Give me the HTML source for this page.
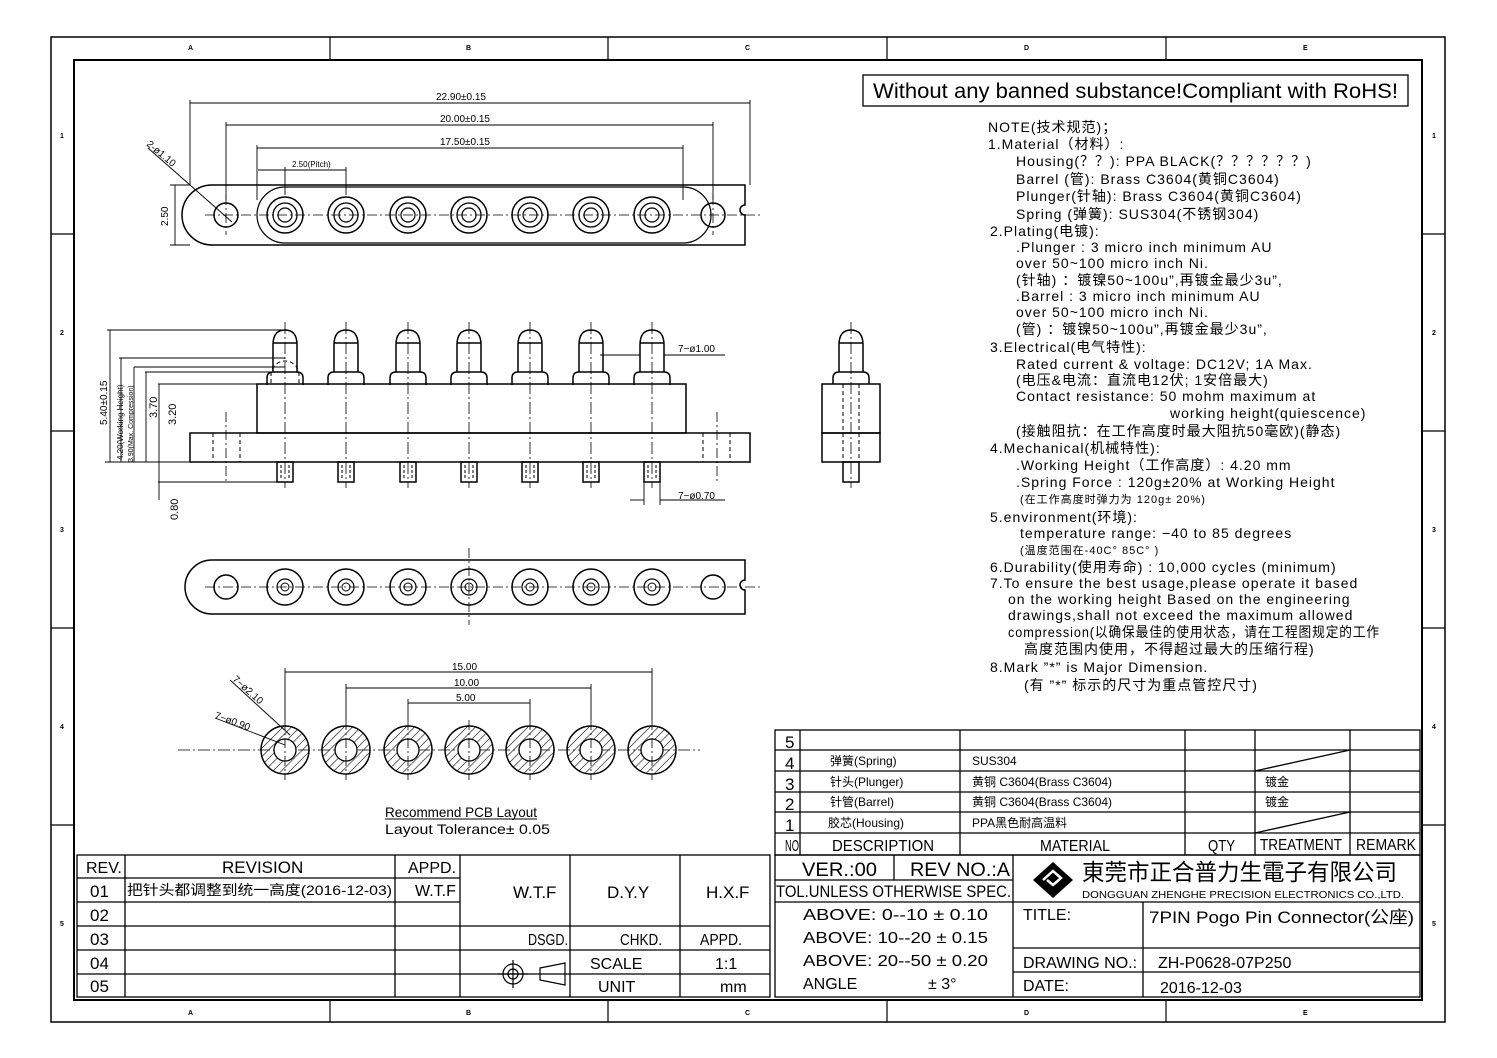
<!DOCTYPE html>
<html><head><meta charset="utf-8"><style>
html,body{margin:0;padding:0;background:#fff}
svg{display:block}
text{font-family:"Liberation Sans","Noto Sans CJK SC",sans-serif;fill:#000}
.n{font-family:"Liberation Sans","Noto Sans CJK SC",sans-serif;font-size:14px;letter-spacing:1px}
.t{font-family:"Liberation Sans","Noto Sans CJK SC",sans-serif}
.d{font-size:10px;font-family:"DejaVu Sans",sans-serif}
</style></head><body>
<svg width="1497" height="1058" viewBox="0 0 1497 1058" xmlns="http://www.w3.org/2000/svg" fill="none" stroke="#000">
<defs>
<pattern id="h" width="6" height="6" patternUnits="userSpaceOnUse" patternTransform="rotate(45)"><line x1="0" y1="0" x2="0" y2="6" stroke="#000" stroke-width="1.2"/></pattern>
<g id="thole"><circle r="18" stroke-width="1.5"/><circle r="12" stroke-width="1.3"/><circle r="7" stroke-width="1.2"/></g>
<g id="bhole"><circle r="18" stroke-width="1.5"/><circle r="8" stroke-width="1.2"/><circle r="4" stroke-width="1"/></g>
<g id="pin" stroke-width="1.5"><path d="M-12,372 v-27 q0,-15 12,-15 q12,0 12,15 v27"/><line x1="-12" y1="343" x2="12" y2="343"/><path d="M-18,385 v-7 q0,-6 6,-6 h24 q6,0 6,6 v7"/><rect x="-8" y="462" width="16" height="20"/><line x1="-4" y1="465" x2="-4" y2="479" stroke-dasharray="3 2" stroke-width="1"/><line x1="4" y1="465" x2="4" y2="479" stroke-dasharray="3 2" stroke-width="1"/><line x1="0" y1="322" x2="0" y2="488" stroke-dasharray="12 3 2 3" stroke-width="0.8"/></g>
<g id="pcb"><circle r="24" fill="url(#h)" stroke-width="1.5"/><circle r="11" fill="#fff" stroke-width="1.3"/><line x1="0" y1="-30" x2="0" y2="30" stroke-dasharray="10 3 2 3" stroke-width="0.8"/></g>
</defs>
<rect x="51" y="37" width="1394" height="985" stroke-width="1.5"/>
<rect x="74" y="60" width="1348" height="940" stroke-width="2"/>
<g stroke-width="1.2">
<line x1="330" y1="37" x2="330" y2="60"/><line x1="608" y1="37" x2="608" y2="60"/><line x1="887" y1="37" x2="887" y2="60"/><line x1="1166" y1="37" x2="1166" y2="60"/>
<line x1="330" y1="1000" x2="330" y2="1022"/><line x1="608" y1="1000" x2="608" y2="1022"/><line x1="887" y1="1000" x2="887" y2="1022"/><line x1="1166" y1="1000" x2="1166" y2="1022"/>
<line x1="51" y1="234" x2="74" y2="234"/><line x1="51" y1="431" x2="74" y2="431"/><line x1="51" y1="628" x2="74" y2="628"/><line x1="51" y1="825" x2="74" y2="825"/>
<line x1="1422" y1="234" x2="1445" y2="234"/><line x1="1422" y1="431" x2="1445" y2="431"/><line x1="1422" y1="628" x2="1445" y2="628"/><line x1="1422" y1="825" x2="1445" y2="825"/>
</g>
<g stroke="none" font-size="7" font-weight="bold">
<text x="188" y="50">A</text><text x="466" y="50">B</text><text x="745" y="50">C</text><text x="1024" y="50">D</text><text x="1303" y="50">E</text>
<text x="188" y="1015">A</text><text x="466" y="1015">B</text><text x="745" y="1015">C</text><text x="1024" y="1015">D</text><text x="1303" y="1015">E</text>
<text x="60" y="138">1</text><text x="60" y="335">2</text><text x="60" y="532">3</text><text x="60" y="729">4</text><text x="60" y="926">5</text>
<text x="1432" y="138">1</text><text x="1432" y="335">2</text><text x="1432" y="532">3</text><text x="1432" y="729">4</text><text x="1432" y="926">5</text>
</g>
<rect x="863" y="75" width="545" height="31" stroke-width="1.3"/>
<text x="873" y="98" class="t" font-size="21" stroke="none" textLength="525" lengthAdjust="spacingAndGlyphs">Without any banned substance!Compliant with RoHS!</text>

<g stroke-width="0.9">
<line x1="190" y1="100" x2="190" y2="185"/><line x1="750" y1="100" x2="750" y2="185"/>
<line x1="190" y1="103" x2="750" y2="103"/>
<line x1="226" y1="122" x2="226" y2="200"/><line x1="713" y1="122" x2="713" y2="200"/>
<line x1="226" y1="125" x2="713" y2="125"/>
<line x1="257" y1="145" x2="257" y2="200"/><line x1="683" y1="145" x2="683" y2="200"/>
<line x1="257" y1="148" x2="683" y2="148"/>
<line x1="285" y1="167" x2="285" y2="195"/><line x1="346" y1="167" x2="346" y2="195"/>
<line x1="258" y1="170" x2="346" y2="170"/>
<line x1="170" y1="185" x2="190" y2="185"/><line x1="170" y1="245" x2="190" y2="245"/><line x1="175" y1="185" x2="175" y2="245"/>
<line x1="148" y1="148" x2="232" y2="222"/>
</g>
<g stroke="none" class="d">
<text x="436" y="100">22.90±0.15</text><text x="440" y="122">20.00±0.15</text><text x="440" y="145">17.50±0.15</text>
<text x="292" y="167" font-size="8">2.50(Pitch)</text>
<text x="168" y="226" transform="rotate(-90 168 226)">2.50</text>
<text x="146" y="145" transform="rotate(40 146 145)">2-ø1.10</text>
</g>
<g stroke-width="1.5">
<path d="M212,185 H745 V205 a5,5 0 0 0 0,10 V245 H212 a30,30 0 0 1 0,-60 Z"/>
<path d="M285,187 H683 a28,28 0 0 1 0,56 H285 a28,28 0 0 1 0,-56 Z" stroke-width="1.2"/>
<circle cx="226" cy="215" r="12"/><circle cx="713" cy="215" r="12"/>
</g>
<g>
<use href="#thole" x="285" y="215"/><use href="#thole" x="346" y="215"/><use href="#thole" x="408" y="215"/><use href="#thole" x="469" y="215"/><use href="#thole" x="530" y="215"/><use href="#thole" x="591" y="215"/><use href="#thole" x="652" y="215"/>
</g>
<g stroke-width="0.8" stroke-dasharray="10 3 2 3"><line x1="205" y1="215" x2="760" y2="215"/><line x1="226" y1="195" x2="226" y2="235"/><line x1="713" y1="195" x2="713" y2="235"/></g>

<g stroke-width="1.5">
<rect x="257" y="384" width="429" height="49"/>
<rect x="190" y="433" width="560" height="29"/>
</g>
<g stroke-width="1" stroke-dasharray="4 3">
<line x1="213" y1="433" x2="213" y2="462"/><line x1="240" y1="433" x2="240" y2="462"/>
<line x1="703" y1="433" x2="703" y2="462"/><line x1="730" y1="433" x2="730" y2="462"/>
<path d="M271,383 v-8 a14,14 0 0 1 28,0 v8"/>
</g>
<g stroke-width="0.8" stroke-dasharray="10 3 2 3"><line x1="226" y1="412" x2="226" y2="482"/><line x1="717" y1="412" x2="717" y2="482"/></g>
<use href="#pin" x="285"/><use href="#pin" x="346"/><use href="#pin" x="408"/><use href="#pin" x="469"/><use href="#pin" x="530"/><use href="#pin" x="591"/><use href="#pin" x="652"/>
<g stroke-width="0.9">
<line x1="107" y1="330" x2="285" y2="330"/><line x1="110" y1="330" x2="110" y2="462"/>
<line x1="119" y1="358" x2="285" y2="358"/><line x1="121" y1="358" x2="121" y2="462"/>
<line x1="134" y1="367" x2="285" y2="367"/><line x1="134" y1="367" x2="134" y2="462"/>
<line x1="145" y1="372" x2="285" y2="372"/><line x1="146" y1="372" x2="146" y2="462"/>
<line x1="158" y1="384" x2="257" y2="384"/><line x1="159" y1="384" x2="159" y2="462"/>
<line x1="105" y1="462" x2="190" y2="462"/>
<line x1="158" y1="482" x2="280" y2="482"/><line x1="159" y1="462" x2="159" y2="500"/>
<line x1="600" y1="355" x2="640" y2="355"/><line x1="664" y1="355" x2="725" y2="355"/>
<line x1="630" y1="500" x2="644" y2="500"/><line x1="660" y1="500" x2="725" y2="500"/>
<line x1="644" y1="480" x2="644" y2="505"/><line x1="660" y1="480" x2="660" y2="505"/>
</g>
<g stroke="none" class="d">
<text x="107" y="425" transform="rotate(-90 107 425)">5.40±0.15</text>
<text x="123" y="460" transform="rotate(-90 123 460)" font-size="8">4.20(Working Height)</text>
<text x="133" y="462" transform="rotate(-90 133 462)" font-size="7">3.90(Max. Compression)</text>
<text x="157" y="418" transform="rotate(-90 157 418)" font-size="11">3.70</text>
<text x="176" y="425" transform="rotate(-90 176 425)" font-size="11">3.20</text>
<text x="178" y="520" transform="rotate(-90 178 520)" font-size="11">0.80</text>
<text x="678" y="352">7−ø1.00</text>
<text x="678" y="499">7−ø0.70</text>
</g>
<g stroke-width="1.5">
<rect x="822" y="384" width="58" height="49"/><rect x="822" y="433" width="58" height="29"/>
<path d="M839,372 v-27 q0,-15 12,-15 q12,0 12,15 v27"/><line x1="839" y1="343" x2="863" y2="343"/><path d="M833,384 v-6 q0,-6 6,-6 h24 q6,0 6,6 v6"/>
<rect x="843" y="462" width="16" height="20"/>
</g>
<g stroke-width="1" stroke-dasharray="4 3"><line x1="843" y1="384" x2="843" y2="462"/><line x1="859" y1="384" x2="859" y2="462"/></g>
<line x1="851" y1="322" x2="851" y2="488" stroke-width="0.8" stroke-dasharray="12 3 2 3"/>

<g stroke-width="1.5">
<path d="M212,560 H745 V580 a5,5 0 0 0 0,10 V614 H212 a27,27 0 0 1 0,-54 Z"/>
<circle cx="226" cy="587" r="12"/><circle cx="713" cy="587" r="12"/>
</g>
<use href="#bhole" x="285" y="587"/><use href="#bhole" x="346" y="587"/><use href="#bhole" x="408" y="587"/><use href="#bhole" x="469" y="587"/><use href="#bhole" x="530" y="587"/><use href="#bhole" x="591" y="587"/><use href="#bhole" x="652" y="587"/>
<g stroke-width="0.8" stroke-dasharray="10 3 2 3"><line x1="205" y1="587" x2="760" y2="587"/><line x1="469" y1="548" x2="469" y2="625"/></g>

<line x1="178" y1="750" x2="700" y2="750" stroke-width="0.8" stroke-dasharray="12 3 2 3"/>
<use href="#pcb" x="285" y="750"/><use href="#pcb" x="346" y="750"/><use href="#pcb" x="408" y="750"/><use href="#pcb" x="469" y="750"/><use href="#pcb" x="530" y="750"/><use href="#pcb" x="591" y="750"/><use href="#pcb" x="652" y="750"/>
<g stroke-width="0.9">
<line x1="285" y1="672" x2="652" y2="672"/><line x1="285" y1="668" x2="285" y2="720"/><line x1="652" y1="668" x2="652" y2="720"/>
<line x1="346" y1="688" x2="591" y2="688"/><line x1="346" y1="684" x2="346" y2="720"/><line x1="591" y1="684" x2="591" y2="720"/>
<line x1="408" y1="703" x2="530" y2="703"/><line x1="408" y1="699" x2="408" y2="720"/><line x1="530" y1="699" x2="530" y2="720"/>
<line x1="230" y1="680" x2="290" y2="735"/><line x1="215" y1="718" x2="285" y2="745"/>
<line x1="385" y1="819" x2="537" y2="819"/>
</g>
<g stroke="none" class="d">
<text x="452" y="670">15.00</text><text x="454" y="686">10.00</text><text x="456" y="701">5.00</text>
<text x="232" y="680" transform="rotate(42 232 680)">7−ø2.10</text>
<text x="214" y="718" transform="rotate(20 214 718)">7−ø0.90</text>
</g>
<text x="385" y="817" class="t" font-size="14" stroke="none" textLength="152" lengthAdjust="spacingAndGlyphs">Recommend PCB Layout</text>
<text x="385" y="834" class="t" font-size="14" stroke="none" textLength="165" lengthAdjust="spacingAndGlyphs">Layout Tolerance± 0.05</text>

<g stroke="none" class="n">
<text x="988" y="132">NOTE(技术规范)；</text>
<text x="988" y="149">1.Material（材料）:</text>
<text x="1016" y="166">Housing(？？): PPA BLACK(？？？？？？)</text>
<text x="1016" y="184">Barrel (管): Brass C3604(黄铜C3604)</text>
<text x="1016" y="201">Plunger(针轴): Brass C3604(黄铜C3604)</text>
<text x="1016" y="219">Spring (弹簧): SUS304(不锈钢304)</text>
<text x="990" y="236">2.Plating(电镀):</text>
<text x="1016" y="252">.Plunger : 3 micro inch minimum AU</text>
<text x="1016" y="268">over 50~100 micro inch Ni.</text>
<text x="1016" y="285">(针轴) ：镀镍50~100u”,再镀金最少3u”,</text>
<text x="1016" y="301">.Barrel : 3 micro inch minimum AU</text>
<text x="1016" y="317">over 50~100 micro inch Ni.</text>
<text x="1016" y="334">(管) ：镀镍50~100u”,再镀金最少3u”,</text>
<text x="990" y="352">3.Electrical(电气特性):</text>
<text x="1016" y="369">Rated current &amp; voltage: DC12V; 1A Max.</text>
<text x="1016" y="385">(电压&amp;电流：直流电12伏; 1安倍最大)</text>
<text x="1016" y="401">Contact resistance: 50 mohm maximum at</text>
<text x="1170" y="418">working height(quiescence)</text>
<text x="1016" y="436">(接触阻抗：在工作高度时最大阻抗50毫欧)(静态)</text>
<text x="990" y="453">4.Mechanical(机械特性):</text>
<text x="1016" y="470">.Working Height（工作高度）: 4.20 mm</text>
<text x="1016" y="487">.Spring Force : 120g±20% at Working Height</text>
<text x="1020" y="503" font-size="11">(在工作高度时弹力为 120g± 20%)</text>
<text x="990" y="522">5.environment(环境):</text>
<text x="1020" y="538">temperature range: −40 to 85 degrees</text>
<text x="1020" y="554" font-size="11">(温度范围在-40C°  85C° )</text>
<text x="990" y="572">6.Durability(使用寿命) : 10,000 cycles (minimum)</text>
<text x="990" y="588">7.To ensure the best usage,please operate it based</text>
<text x="1008" y="604">on the working height Based on the engineering</text>
<text x="1008" y="620">drawings,shall not exceed the maximum allowed</text>
<text x="1008" y="637" textLength="372" lengthAdjust="spacingAndGlyphs">compression(以确保最佳的使用状态，请在工程图规定的工作</text>
<text x="1024" y="654">高度范围内使用，不得超过最大的压缩行程)</text>
<text x="990" y="672">8.Mark ”*” is Major Dimension.</text>
<text x="1024" y="690">(有 ”*” 标示的尺寸为重点管控尺寸)</text>
</g>

<g stroke-width="1.3">
<rect x="775" y="730" width="645" height="125"/>
<line x1="775" y1="750" x2="1420" y2="750"/><line x1="775" y1="771" x2="1420" y2="771"/><line x1="775" y1="792" x2="1420" y2="792"/><line x1="775" y1="812" x2="1420" y2="812"/><line x1="775" y1="833" x2="1420" y2="833"/>
<line x1="800" y1="730" x2="800" y2="855"/><line x1="960" y1="730" x2="960" y2="855"/><line x1="1185" y1="730" x2="1185" y2="855"/><line x1="1255" y1="730" x2="1255" y2="855"/><line x1="1350" y1="730" x2="1350" y2="855"/>
<line x1="1255" y1="771" x2="1350" y2="750"/><line x1="1255" y1="833" x2="1350" y2="812"/>
</g>
<g stroke="none" class="t">
<text x="785" y="748" font-size="17">5</text><text x="785" y="769" font-size="17">4</text><text x="785" y="790" font-size="17">3</text><text x="785" y="810" font-size="17">2</text><text x="785" y="831" font-size="17">1</text>
<text x="830" y="765" font-size="12">弹簧(Spring)</text><text x="830" y="786" font-size="12">针头(Plunger)</text><text x="830" y="806" font-size="12">针管(Barrel)</text><text x="828" y="827" font-size="12">胶芯(Housing)</text>
<text x="972" y="765" font-size="12">SUS304</text><text x="972" y="786" font-size="12">黄铜 C3604(Brass C3604)</text><text x="972" y="806" font-size="12">黄铜 C3604(Brass C3604)</text><text x="972" y="827" font-size="12">PPA黑色耐高温料</text>
<text x="1265" y="786" font-size="12">镀金</text><text x="1265" y="806" font-size="12">镀金</text>
<text x="785" y="851" font-size="16" textLength="14" lengthAdjust="spacingAndGlyphs">NO</text><text x="832" y="851" font-size="16" textLength="102" lengthAdjust="spacingAndGlyphs">DESCRIPTION</text><text x="1040" y="851" font-size="16" textLength="70" lengthAdjust="spacingAndGlyphs">MATERIAL</text><text x="1208" y="851" font-size="16" textLength="27" lengthAdjust="spacingAndGlyphs">QTY</text><text x="1260" y="850" font-size="16" textLength="82" lengthAdjust="spacingAndGlyphs">TREATMENT</text><text x="1356" y="850" font-size="16" textLength="60" lengthAdjust="spacingAndGlyphs">REMARK</text>
</g>

<g stroke-width="1.3">
<rect x="775" y="855" width="645" height="142"/>
<line x1="775" y1="880" x2="1013" y2="880"/><line x1="775" y1="902" x2="1420" y2="902"/>
<line x1="894" y1="855" x2="894" y2="880"/><line x1="1013" y1="855" x2="1013" y2="997"/>
<line x1="1013" y1="948" x2="1420" y2="948"/><line x1="1013" y1="972" x2="1420" y2="972"/>
<line x1="1143" y1="902" x2="1143" y2="997"/>
</g>
<g stroke="none" class="t">
<text x="802" y="876" font-size="19" textLength="75" lengthAdjust="spacingAndGlyphs">VER.:00</text><text x="910" y="876" font-size="19" textLength="100" lengthAdjust="spacingAndGlyphs">REV NO.:A</text>
<text x="776" y="897" font-size="17" textLength="235" lengthAdjust="spacingAndGlyphs">TOL.UNLESS OTHERWISE SPEC.</text>
<text x="803" y="920" font-size="16" textLength="185" lengthAdjust="spacingAndGlyphs">ABOVE:  0--10  ± 0.10</text>
<text x="803" y="943" font-size="16" textLength="185" lengthAdjust="spacingAndGlyphs">ABOVE: 10--20  ± 0.15</text>
<text x="803" y="966" font-size="16" textLength="185" lengthAdjust="spacingAndGlyphs">ABOVE: 20--50  ± 0.20</text>
<text x="803" y="989" font-size="16">ANGLE</text><text x="928" y="989" font-size="16">± 3°</text>
<text x="1023" y="920" font-size="16">TITLE:</text>
<text x="1149" y="923" font-size="17" textLength="265" lengthAdjust="spacingAndGlyphs">7PIN Pogo Pin Connector(公座)</text>
<text x="1023" y="968" font-size="16">DRAWING NO.:</text><text x="1158" y="968" font-size="16">ZH-P0628-07P250</text>
<text x="1023" y="991" font-size="16">DATE:</text><text x="1160" y="993" font-size="16">2016-12-03</text>
<text x="1082" y="880" font-size="23" font-family="Noto Sans CJK SC,sans-serif" textLength="315" lengthAdjust="spacingAndGlyphs">東莞市正合普力生電子有限公司</text>
<text x="1082" y="898" font-size="10" textLength="322" lengthAdjust="spacingAndGlyphs">DONGGUAN ZHENGHE PRECISION ELECTRONICS CO.,LTD.</text>
</g>
<g fill="#000" stroke="none"><path d="M1053,862 L1073,880 L1053,898 L1033,880 Z"/></g>
<path d="M1043,880 l10,-9 l8,7 l-8,7 l-6,-5" stroke="#fff" stroke-width="2.5"/>

<g stroke-width="1.3">
<rect x="77" y="855" width="693" height="142"/>
<line x1="77" y1="878" x2="460" y2="878"/><line x1="77" y1="902" x2="460" y2="902"/><line x1="77" y1="926" x2="770" y2="926"/><line x1="77" y1="950" x2="770" y2="950"/><line x1="77" y1="974" x2="770" y2="974"/>
<line x1="125" y1="855" x2="125" y2="997"/><line x1="395" y1="855" x2="395" y2="997"/><line x1="460" y1="855" x2="460" y2="997"/><line x1="570" y1="855" x2="570" y2="997"/><line x1="680" y1="855" x2="680" y2="997"/>
</g>
<g stroke="none" class="t">
<text x="86" y="873" font-size="16">REV.</text><text x="222" y="873" font-size="17">REVISION</text><text x="408" y="873" font-size="16">APPD.</text>
<text x="90" y="897" font-size="17">01</text><text x="90" y="921" font-size="17">02</text><text x="90" y="945" font-size="17">03</text><text x="90" y="969" font-size="17">04</text><text x="90" y="992" font-size="17">05</text>
<text x="127" y="895" font-size="14" textLength="265" lengthAdjust="spacingAndGlyphs">把针头都调整到统一高度(2016-12-03)</text><text x="415" y="896" font-size="16">W.T.F</text>
<text x="513" y="898" font-size="17">W.T.F</text><text x="607" y="898" font-size="17">D.Y.Y</text><text x="706" y="898" font-size="17">H.X.F</text>
<text x="528" y="945" font-size="16" textLength="40" lengthAdjust="spacingAndGlyphs">DSGD.</text><text x="620" y="945" font-size="16" textLength="42" lengthAdjust="spacingAndGlyphs">CHKD.</text><text x="700" y="945" font-size="16" textLength="42" lengthAdjust="spacingAndGlyphs">APPD.</text>
<text x="590" y="969" font-size="16">SCALE</text><text x="715" y="969" font-size="16">1:1</text>
<text x="598" y="992" font-size="16">UNIT</text><text x="720" y="992" font-size="16">mm</text>
</g>
<g stroke-width="1.2">
<circle cx="513" cy="974" r="10"/><circle cx="513" cy="974" r="5"/><line x1="498" y1="974" x2="528" y2="974"/><line x1="513" y1="960" x2="513" y2="988"/>
<path d="M540,968 L565,963 V985 L540,980 Z"/><line x1="535" y1="974" x2="570" y2="974" stroke-dasharray="6 2 2 2" stroke-width="0.8"/>
</g>
</svg>
</body></html>
